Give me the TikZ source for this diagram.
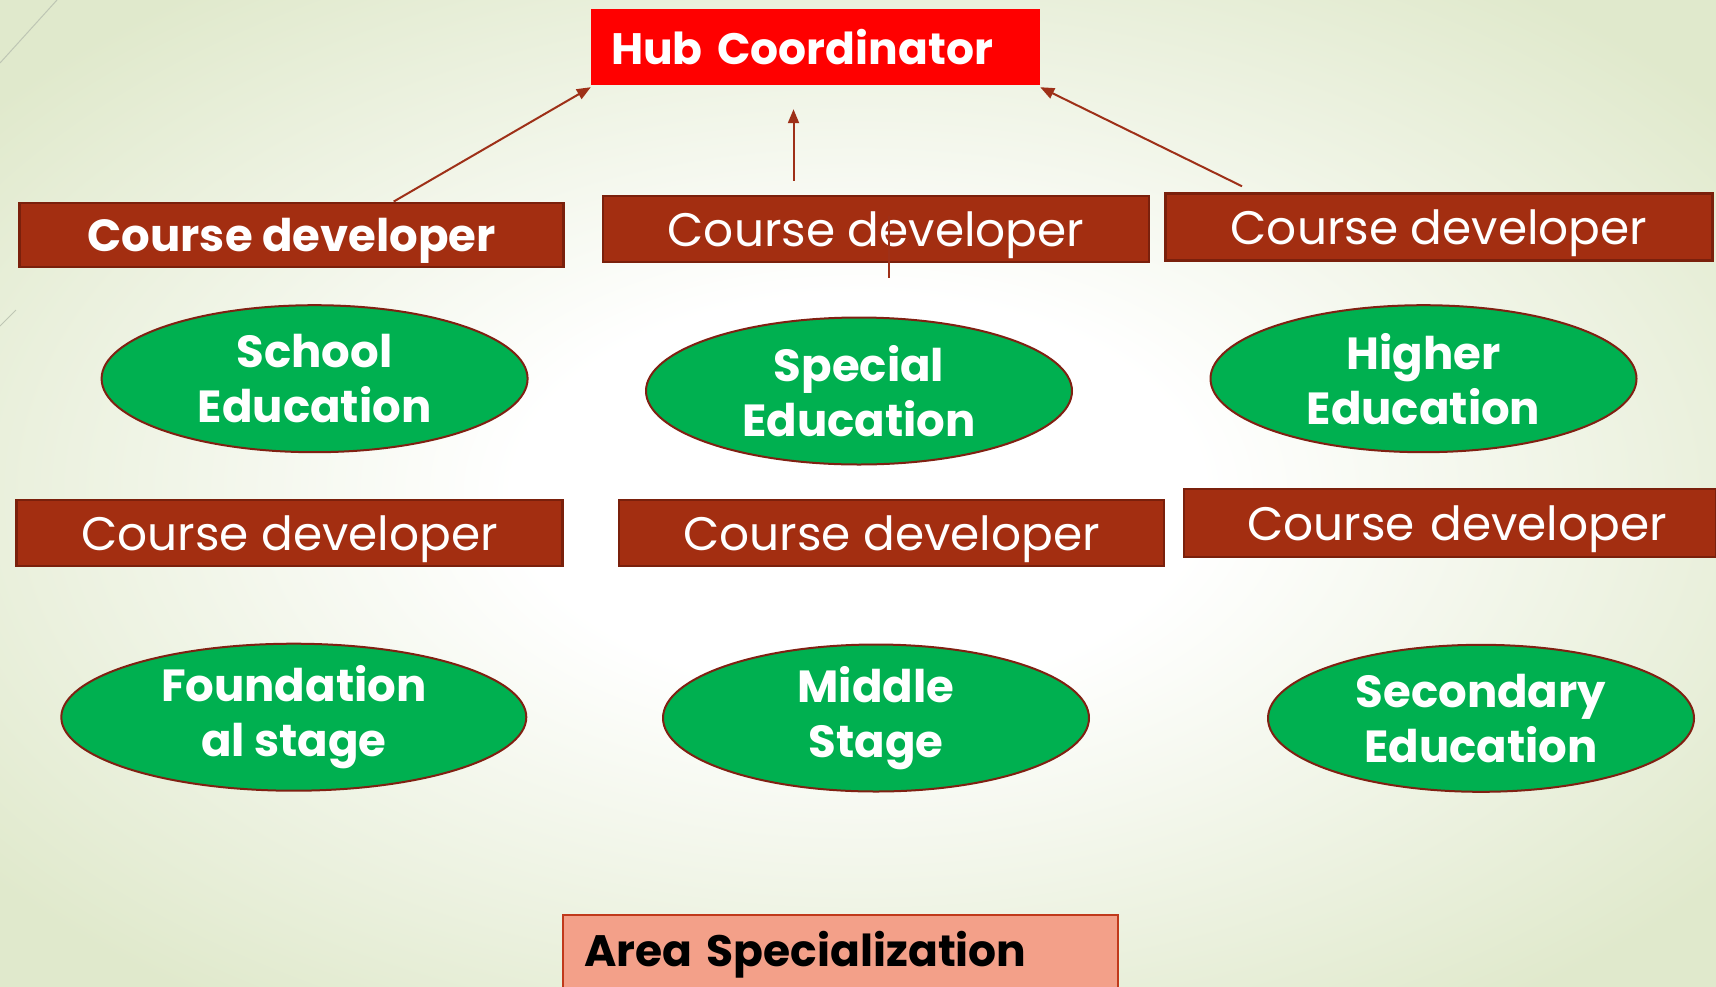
\documentclass[tikz,border=0pt]{standalone}
\usepackage{fontspec}
\setmainfont{Poppins}
\usetikzlibrary{shapes.geometric,arrows.meta}
\definecolor{bggreen}{RGB}{224,233,204}
\definecolor{cdred}{RGB}{163,46,17}
\definecolor{cdborder}{RGB}{122,32,12}
\definecolor{ogreen}{RGB}{0,176,80}
\definecolor{ellborder}{RGB}{128,32,18}
\definecolor{arrred}{RGB}{158,48,24}
\definecolor{hubred}{RGB}{255,0,0}
\definecolor{areafill}{RGB}{243,160,137}
\definecolor{areaborder}{RGB}{192,57,27}
\definecolor{decoline}{RGB}{190,198,180}
\pgfdeclareradialshading{bgshade}{\pgfpoint{0bp}{0bp}}{color(0bp)=(white); color(10bp)=(white); color(32bp)=(bggreen); color(50bp)=(bggreen)}
\newcommand\hubfont{\fontsize{44}{54}\selectfont\bfseries}
\newcommand\cdfont{\fontsize{47}{56}\selectfont}
\newcommand\cdbfont{\fontsize{45}{54}\selectfont\bfseries}
\newcommand\ellfont{\fontsize{45}{55}\selectfont\bfseries}
\newcommand\cdtext{\raisebox{-6pt}[\height][\depth]{Course developer}}
\begin{document}
\begin{tikzpicture}[x=1pt,y=-1pt,
  cdbox/.style={rectangle, fill=cdred, draw=cdborder, line width=2.5pt,
    minimum width=545pt, minimum height=65pt, inner sep=0pt, text=white, font=\cdfont},
  greenell/.style={ellipse, fill=ogreen, draw=ellborder, line width=2pt,
    minimum width=426pt, minimum height=147pt, inner sep=0pt, text=white,
    align=center, font=\ellfont},
  arr/.style={draw=arrred, line width=2pt, -{Triangle[length=14pt,width=11pt]}},
  plainline/.style={draw=arrred, line width=2pt}]
\useasboundingbox (0,0) rectangle (1716,986);
\shade[shading=bgshade] (0,0) rectangle (1716,986);
\draw[decoline, line width=1pt] (0,63) -- (57,0);
\draw[decoline, line width=1pt] (0,326) -- (16,310);

% hub
\node[rectangle, fill=hubred, minimum height=76pt, text width=409pt, inner xsep=20pt,
  inner ysep=0pt, align=left, text=white, font=\hubfont] (hub) at (815.5,47) {Hub Coordinator};

% course developers
\node[cdbox, font=\cdbfont, minimum width=544pt, minimum height=64pt] (cd1) at (291.7,234.8) {\cdtext};
\node[cdbox, minimum width=546pt, minimum height=66pt] (cd2) at (876,229) {\cdtext};
\node[cdbox, minimum width=547pt, minimum height=67pt] (cd3) at (1439,227) {\cdtext};
\node[cdbox, minimum width=546pt, minimum height=66pt] (cd4) at (289.5,533) {\cdtext};
\node[cdbox, minimum width=545pt, minimum height=66pt] (cd5) at (891.5,533) {\cdtext};
\node[cdbox, minimum width=532pt, minimum height=68pt, text width=532pt, align=center] (cd6) at (1450,523) {\hspace*{14pt}\cdtext};

% ellipses
\node[greenell] (e1) at (314.6,378.7) {School\\Education};
\node[greenell] (e2) at (859,391) {Special\\Education};
\node[greenell] (e3) at (1423.5,378.7) {Higher\\Education};
\node[greenell, minimum width=465pt] (e4) at (293.8,717.2) {Foundation\\al stage};
\node[greenell] (e5) at (876,718) {Middle\\Stage};
\node[greenell] (e6) at (1481,718.3) {Secondary\\Education};

% area specialization
\node[rectangle, fill=areafill, draw=areaborder, line width=2pt, minimum height=80pt,
  text width=512pt, inner xsep=21.5pt, inner ysep=0pt, align=left, text=black,
  font=\hubfont] (area) at (840,955) {Area Specialization};

% connectors
\draw[arr] ([xshift=102pt]cd1.north) -- ([yshift=-2pt]hub.south west);
\draw[arr] ([xshift=-82.5pt,yshift=14pt]cd2.north) -- ([xshift=-22pt,yshift=-24pt]hub.south);
\draw[plainline] ([xshift=12.7pt,yshift=13pt]cd2.center) -- ([xshift=12.7pt,yshift=-49pt]cd2.center);
\draw[arr] ([xshift=-197pt,yshift=6pt]cd3.north) -- ([yshift=-2pt]hub.south east);
\end{tikzpicture}
\end{document}
